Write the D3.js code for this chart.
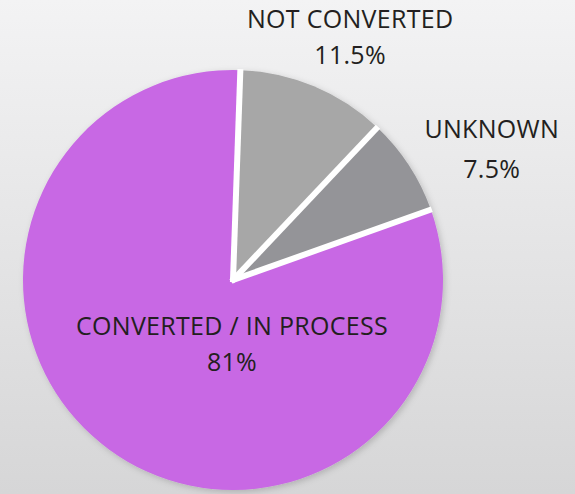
<!DOCTYPE html>
<html>
<head>
<meta charset="utf-8">
<script src="https://cdn.jsdelivr.net/npm/d3@7"></script>
<style>
  body { margin: 0; }
  svg { display: block; }
</style>
</head>
<body>
<svg width="575" height="494"></svg>
<script>
// Data
const categories = ["NOT CONVERTED", "UNKNOWN", "CONVERTED / IN PROCESS"];
const values = [11.5, 7.5, 81];
const valueLabels = ["11.5%", "7.5%", "81%"];
const colors = ["#a7a7a7", "#949498", "#c868e4"];

const svg = d3.select("svg"),
  width = +svg.attr("width"),
  height = +svg.attr("height");

// background gradient
const defs = svg.append("defs");
const grad = defs.append("linearGradient")
  .attr("id", "bg")
  .attr("x1", 0).attr("y1", 0).attr("x2", 0).attr("y2", 1);
grad.append("stop").attr("offset", "0%").attr("stop-color", "#f3f3f4");
grad.append("stop").attr("offset", "100%").attr("stop-color", "#d6d6d7");

const shadow = defs.append("filter")
  .attr("id", "shadow")
  .attr("x", "-20%").attr("y", "-20%").attr("width", "140%").attr("height", "140%");
shadow.append("feDropShadow")
  .attr("dx", 2).attr("dy", 2)
  .attr("stdDeviation", 3)
  .attr("flood-color", "#000")
  .attr("flood-opacity", 0.18);

svg.append("rect")
  .attr("width", width)
  .attr("height", height)
  .attr("fill", "url(#bg)");

const cx = 233, cy = 280, radius = 210;

const pie = d3.pie()
  .sort(null)
  .startAngle(0.035)
  .endAngle(0.035 + 2 * Math.PI);

const arc = d3.arc()
  .innerRadius(0)
  .outerRadius(radius);

const arcs = pie(values);

const g = svg.append("g")
  .attr("transform", `translate(${cx},${cy})`);

const slices = g.append("g")
  .attr("filter", "url(#shadow)");

slices.selectAll("path")
  .data(arcs)
  .enter()
  .append("path")
    .attr("d", arc)
    .attr("fill", (d, i) => colors[i]);

// white separators along the slice edges only
g.append("g")
  .selectAll("line")
  .data(arcs)
  .enter()
  .append("line")
    .attr("x1", d => -Math.sin(d.startAngle) * 2)
    .attr("y1", d => Math.cos(d.startAngle) * 2)
    .attr("x2", d => Math.sin(d.startAngle) * (radius + 1))
    .attr("y2", d => -Math.cos(d.startAngle) * (radius + 1))
    .attr("stroke", "white")
    .attr("stroke-width", 6);

// label placement: outside for the small slices, inside for the big one
const labelArc = [
  d3.arc().innerRadius(262).outerRadius(262),
  d3.arc().innerRadius(285).outerRadius(285),
  d3.arc().innerRadius(0).outerRadius(0)
];
const labelShift = [[16, -10], [20, 14], [-1, 55]];

const labels = g.selectAll(".label")
  .data(arcs)
  .enter()
  .append("text")
    .attr("class", "label")
    .attr("transform", (d, i) => {
      const c = labelArc[i].centroid(d);
      return `translate(${c[0] + labelShift[i][0]},${c[1] + labelShift[i][1]})`;
    })
    .attr("text-anchor", "middle")
    .style("font-family", "'Open Sans', sans-serif")
    .style("font-size", "25px")
    .style("letter-spacing", "0.3px")
    .attr("fill", "#231f20");

labels.append("tspan")
  .attr("x", 0)
  .attr("dy", 0)
  .text((d, i) => categories[i]);

labels.append("tspan")
  .attr("x", 0)
  .attr("dy", (d, i) => i === 1 ? 40 : 36)
  .text((d, i) => valueLabels[i]);
</script>
</body>
</html>
